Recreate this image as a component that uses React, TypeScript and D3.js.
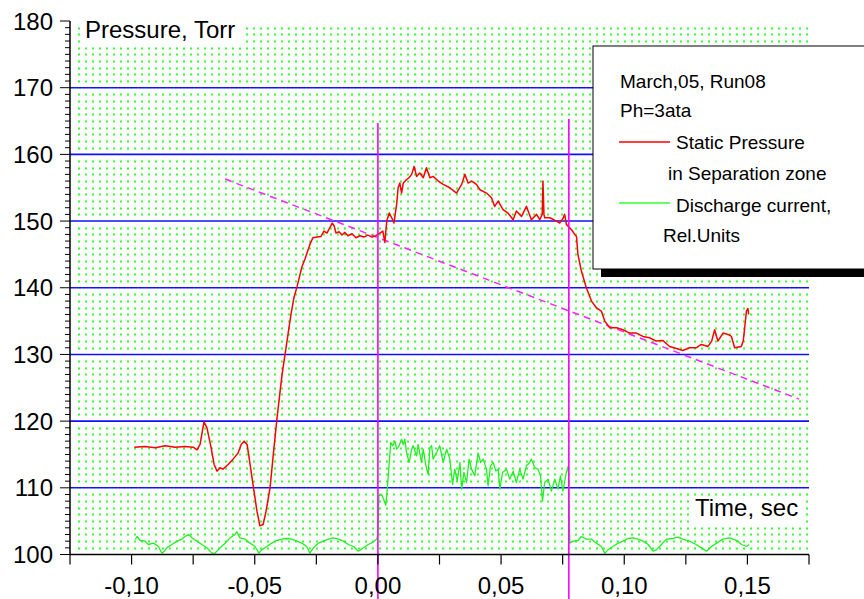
import React from 'react';
import * as d3 from 'd3';

const W = 864;
const H = 599;

const xDomain = [-0.125, 0.175];
const yDomain = [100, 180];
const xTickValues = [-0.1, -0.05, 0, 0.05, 0.1, 0.15];
const xTickLabels = ['-0,10', '-0,05', '0,00', '0,05', '0,10', '0,15'];
const yTickValues = [100, 110, 120, 130, 140, 150, 160, 170, 180];
const yTickLabels = ['100', '110', '120', '130', '140', '150', '160', '170', '180'];
const blueGridValues = [110, 120, 130, 140, 150, 160, 170];

const pressureTime = [
  -0.0989, -0.0945, -0.0904, -0.0864, -0.0823, -0.0783, -0.075, -0.0734, -0.0722, -0.0706,
  -0.0694, -0.0677, -0.0665, -0.0653, -0.0641, -0.0629, -0.0608, -0.0588, -0.0568, -0.0555,
  -0.0543, -0.0531, -0.0519, -0.0503, -0.0491, -0.0479, -0.0466, -0.0454, -0.0438, -0.0426,
  -0.0411, -0.0397, -0.0389, -0.0377, -0.0365, -0.0353, -0.0341, -0.0328, -0.0316, -0.0308,
  -0.0296, -0.0288, -0.0276, -0.0264, -0.0247, -0.0231, -0.0219, -0.0207, -0.0195, -0.0186,
  -0.0178, -0.017, -0.0158, -0.0146, -0.0134, -0.0122, -0.0105, -0.0089, -0.0073, -0.0057,
  -0.0041, -0.0024, -0.0008, 0.0008, 0.002, 0.0028, 0.0036, 0.0046, 0.0056, 0.0065,
  0.0076, 0.0082, 0.0089, 0.0096, 0.0103, 0.0116, 0.0126, 0.0137, 0.0147, 0.0157,
  0.017, 0.0184, 0.0197, 0.0211, 0.0224, 0.0245, 0.0265, 0.0292, 0.0319, 0.034,
  0.0353, 0.0366, 0.0381, 0.04, 0.0414, 0.0441, 0.0461, 0.0474, 0.0488, 0.0508,
  0.0528, 0.0549, 0.0562, 0.0583, 0.0603, 0.0623, 0.0644, 0.0657, 0.0667, 0.067,
  0.0674, 0.0677, 0.0698, 0.0725, 0.0738, 0.075, 0.0758, 0.0765, 0.0786, 0.0799,
  0.0806, 0.0812, 0.0826, 0.0846, 0.0867, 0.0887, 0.0907, 0.0921, 0.0941, 0.0968,
  0.0995, 0.1022, 0.1049, 0.1076, 0.1103, 0.113, 0.1157, 0.1184, 0.1212, 0.1238,
  0.1265, 0.1292, 0.1313, 0.134, 0.1355, 0.1367, 0.138, 0.1401, 0.1421, 0.1435,
  0.1448, 0.1475, 0.1483, 0.1489, 0.1496, 0.1502, 0.1505,
];
const pressureValue = [
  116.1, 116.2, 116.0, 116.3, 116.1, 116.2, 116.1, 115.7, 116.5, 119.9,
  119.0, 116.0, 113.5, 112.5, 113.0, 112.8, 113.5, 114.3, 115.2, 116.5,
  117.0, 116.5, 113.5, 109.5, 106.5, 104.3, 104.5, 106.5, 110.0, 114.5,
  120.0, 124.5, 127.0, 130.0, 133.0, 136.0, 138.5, 140.2, 142.0, 143.2,
  144.3, 145.2, 146.5, 147.5, 147.6, 147.7, 148.5, 148.2, 149.0, 149.7,
  149.3, 148.2, 148.4, 147.9, 148.3, 147.8, 148.1, 147.5, 147.8, 147.6,
  147.9, 147.6, 147.8, 148.2, 148.5, 146.8, 150.0, 151.2, 150.5, 149.7,
  152.5, 155.0, 155.7, 154.2, 155.7, 156.2, 156.5, 157.0, 158.2, 156.7,
  157.2, 156.5, 158.0, 156.5, 156.7, 156.0, 155.5, 155.0, 154.2, 155.5,
  157.0, 155.7, 156.0, 155.5, 154.7, 154.2, 153.5, 152.2, 153.0, 151.7,
  151.2, 150.2, 151.5, 150.7, 152.2, 150.2, 151.0, 150.2, 151.0, 156.0,
  151.0, 150.5, 150.5, 150.0, 149.7, 150.3, 151.0, 149.5, 148.7, 148.0,
  147.7, 145.0, 142.5, 140.0, 138.0, 137.0, 136.5, 135.0, 134.0, 134.0,
  133.7, 133.2, 133.2, 132.7, 132.5, 132.0, 132.1, 131.2, 130.9, 130.6,
  131.0, 131.0, 131.5, 131.2, 132.0, 133.7, 132.0, 133.2, 133.0, 132.7,
  131.0, 131.2, 132.0, 134.0, 136.5, 136.9, 136.0,
];

const currentTime = [
  -0.0985, -0.0978, -0.0965, -0.0945, -0.0932, -0.0911, -0.0891, -0.0877, -0.0867, -0.0857,
  -0.0836, -0.0816, -0.0796, -0.0783, -0.0769, -0.0755, -0.0735, -0.0715, -0.0694, -0.0674,
  -0.0661, -0.0641, -0.062, -0.06, -0.058, -0.0573, -0.056, -0.0539, -0.0519, -0.0499,
  -0.0483, -0.0472, -0.0451, -0.0431, -0.0411, -0.039, -0.037, -0.035, -0.0329, -0.0309,
  -0.0289, -0.0276, -0.0262, -0.0242, -0.0221, -0.0201, -0.0181, -0.016, -0.014, -0.012,
  -0.0099, -0.0079, -0.0059, -0.0039, -0.0018, -0.0005, 0.0,
  0.0004, 0.0015, 0.0021, 0.0032, 0.0038, 0.0046, 0.0052, 0.006, 0.0069, 0.0076,
  0.0086, 0.0096, 0.0103, 0.0109, 0.0116, 0.0127, 0.0137, 0.0143, 0.0157, 0.0163,
  0.0177, 0.0184, 0.0195, 0.0204, 0.0211, 0.0218, 0.0224, 0.0238, 0.0251, 0.0265,
  0.0279, 0.0292, 0.0303, 0.0312, 0.0322, 0.0333, 0.034, 0.0349, 0.036, 0.037,
  0.038, 0.0393, 0.0407, 0.0417, 0.0427, 0.0441, 0.0447, 0.0457, 0.0468, 0.0479,
  0.0488, 0.0495, 0.0506, 0.0522, 0.0535, 0.0549, 0.0562, 0.0576, 0.0589, 0.0603,
  0.0616, 0.0623, 0.0637, 0.065, 0.066, 0.0668, 0.0677, 0.0691, 0.0704, 0.0718,
  0.0731, 0.0741, 0.0751, 0.0765, 0.0773,
  0.0779, 0.0792, 0.0812, 0.0826, 0.0846, 0.0867, 0.0887, 0.0907, 0.0921, 0.0934,
  0.0954, 0.0975, 0.0995, 0.1015, 0.1036, 0.1056, 0.1076, 0.1097, 0.1117, 0.113,
  0.1151, 0.1171, 0.1198, 0.1218, 0.1238, 0.1265, 0.1292, 0.1313, 0.1334, 0.1354,
  0.1375, 0.1401, 0.1428, 0.1442, 0.1462, 0.1476, 0.1496, 0.1507,
];
const currentValue = [
  102.25, 102.7, 102.1, 102.0, 101.5, 101.7, 101.2, 100.2, 100.5, 101.0,
  101.5, 102.0, 102.3, 102.7, 103.0, 102.5, 102.0, 101.5, 101.0, 100.2,
  100.2, 101.0, 101.7, 102.5, 103.0, 103.4, 102.5, 102.3, 101.7, 101.2,
  100.2, 100.7, 101.2, 101.7, 102.1, 102.3, 102.4, 102.3, 102.0, 101.7,
  101.2, 100.2, 101.0, 101.7, 102.0, 102.3, 102.5, 102.3, 102.0, 101.5,
  101.2, 100.5, 101.0, 101.5, 101.9, 102.3, 103.0,
  108.8, 109.0, 108.5, 107.4, 109.8, 113.8, 116.8, 116.3, 117.0, 115.8,
  116.3, 117.3, 116.5, 117.3, 115.3, 113.8, 115.8, 116.3, 114.8, 116.5,
  113.8, 115.8, 113.3, 112.0, 116.0, 116.3, 114.3, 115.3, 116.3, 113.8,
  115.8, 114.3, 110.5, 112.8, 111.0, 113.8, 109.8, 112.3, 110.8, 114.3,
  112.8, 111.8, 115.2, 113.8, 114.3, 112.8, 110.3, 113.3, 113.8, 112.5,
  112.8, 109.8, 112.3, 112.8, 111.3, 112.5, 110.8, 112.8, 111.3, 113.3,
  113.8, 114.3, 113.0, 112.8, 111.8, 108.0, 110.8, 111.3, 109.5, 111.3,
  109.8, 111.8, 109.5, 112.3, 113.3,
  101.7, 102.0, 102.1, 102.7, 102.3, 102.3, 101.7, 101.2, 100.2, 100.7,
  101.2, 101.7, 102.0, 102.4, 102.5, 102.3, 102.0, 101.5, 100.5, 100.7,
  101.5, 102.3, 102.4, 102.6, 102.3, 102.0, 101.5, 101.0, 100.5, 101.2,
  101.7, 102.3, 102.5, 102.3, 102.0, 101.5, 101.2, 101.5,
];

const trendTime = [-0.062, 0.171];
const trendValue = [156.3, 123.3];
const markerTime = [0.0, 0.0775];
const markerTop = [164.7, 165.3];

const legendLines = ['March,05, Run08', 'Ph=3ata'];

const FONT = '"Liberation Sans", Arial, sans-serif';

export default function App() {
  const x = d3.scaleLinear().domain(xDomain).range([70, 809]);
  const y = d3.scaleLinear().domain(yDomain).range([554.5, 21]);

  const xMinorTicks = d3.range(-0.125, 0.1751, 0.025);
  const yMinor = d3.range(101, 180, 1).filter((v) => v % 10 !== 0);
  const yMinorTicks = d3.range(100, 181, 1);

  const pressurePts: [number, number][] = pressureTime.map((t, i) => [t, pressureValue[i]]);
  const currentPts: [number, number][] = currentTime.map((t, i) => [t, currentValue[i]]);
  const trendPts: [number, number][] = trendTime.map((t, i) => [t, trendValue[i]]);

  const line = d3
    .line<[number, number]>()
    .x((d) => x(d[0]))
    .y((d) => y(d[1]));

  const [x0, x1] = x.range();

  return (
    <svg
      width={W}
      height={H}
      style={{ position: 'fixed', left: 0, top: 0, background: '#fff' }}
      fontFamily={FONT}
    >
      <rect x={0} y={0} width={W} height={H} fill="#fff" />
      {/* dotted green minor grid */}
      {yMinor.map((v) => (
        <line
          key={'g' + v}
          x1={x0 + 8}
          x2={x1}
          y1={Math.round(y(v)) + 0.5}
          y2={Math.round(y(v)) + 0.5}
          stroke="#33ff33"
          strokeWidth={2}
          strokeDasharray="2,5"
        />
      ))}
      {/* blue major grid */}
      {blueGridValues.map((v) => (
        <line key={'b' + v} x1={x0} x2={x1} y1={y(v)} y2={y(v)} stroke="#1010ff" strokeWidth={1.6} />
      ))}
      {/* label backgrounds */}
      <rect x={82} y={22} width={162} height={22} fill="#fff" />
      <rect x={692} y={497} width={112} height={26} fill="#fff" />
      <text x={85} y={38} fontSize={24} fill="#000">Pressure, Torr</text>
      <text x={695} y={516} fontSize={24} fill="#000">Time, sec</text>

      {/* dashed trend */}
      <path d={line(trendPts) || ''} fill="none" stroke="#ff22ff" strokeWidth={1.5} strokeDasharray="7,5" />

      {/* current */}
      <path d={line(currentPts) || ''} fill="none" stroke="#22ee22" strokeWidth={1.3} strokeLinejoin="round" />
      {/* pressure */}
      <path d={line(pressurePts) || ''} fill="none" stroke="#ff0000" strokeWidth={1.5} strokeLinejoin="round" />

      {/* vertical markers */}
      {markerTime.map((t, i) => (
        <line key={'m' + i} x1={x(t)} x2={x(t)} y1={y(markerTop[i])} y2={H} stroke="#ff00ff" strokeWidth={1.6} />
      ))}

      {/* axes */}
      <line x1={x0} x2={x0} y1={y(180)} y2={y(100)} stroke="#000" strokeWidth={1.5} />
      <line x1={x0} x2={x1} y1={y(100)} y2={y(100)} stroke="#000" strokeWidth={1.5} />
      {yMinorTicks.map((v) => (
        <line
          key={'yt' + v}
          x1={x0 - (v % 10 === 0 ? 10 : 5)}
          x2={x0}
          y1={y(v)}
          y2={y(v)}
          stroke="#000"
          strokeWidth={1}
        />
      ))}
      {yTickValues.map((v, i) => (
        <text key={'yl' + v} x={53} y={y(v) + 8.5} fontSize={24} textAnchor="end" fill="#000">
          {yTickLabels[i]}
        </text>
      ))}
      {xMinorTicks.map((t, i) => (
        <line key={'xt' + i} x1={x(t)} x2={x(t)} y1={y(100)} y2={y(100) + 10} stroke="#000" strokeWidth={1.2} />
      ))}
      {xTickValues.map((t, i) => (
        <text key={'xl' + i} x={x(t)} y={594} fontSize={24} textAnchor="middle" fill="#000">
          {xTickLabels[i]}
        </text>
      ))}

      {/* legend */}
      <rect x={601} y={54} width={300} height={223} fill="#000" />
      <rect x={593} y={46} width={300} height={223} fill="#fff" stroke="#000" strokeWidth={1} />
      <text x={620} y={88} fontSize={19} fill="#000">{legendLines[0]}</text>
      <text x={620} y={117} fontSize={19} fill="#000">{legendLines[1]}</text>
      <line x1={619} x2={670} y1={142} y2={142} stroke="#ff0000" strokeWidth={1.3} />
      <text x={676} y={149} fontSize={19} fill="#000">Static Pressure</text>
      <text x={668} y={180} fontSize={19} fill="#000">in Separation zone</text>
      <line x1={619} x2={670} y1={203} y2={203} stroke="#33ff33" strokeWidth={1.3} />
      <text x={676} y={212} fontSize={19} fill="#000">Discharge current,</text>
      <text x={663} y={242} fontSize={19} fill="#000">Rel.Units</text>
    </svg>
  );
}
